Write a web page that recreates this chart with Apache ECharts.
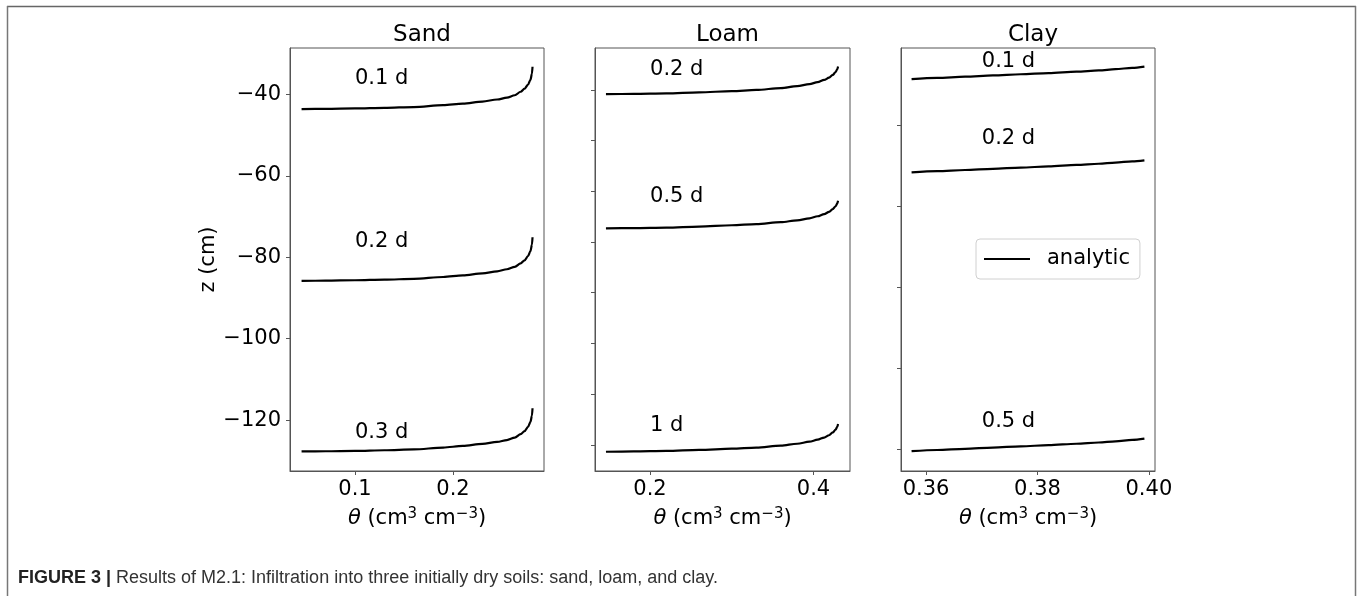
<!DOCTYPE html>
<html><head><meta charset="utf-8">
<script src="https://cdn.jsdelivr.net/npm/echarts@6/dist/echarts.min.js"></script>
<style>html,body{margin:0;padding:0;background:#fff}#c{width:1357px;height:596px}</style>
</head><body><div id="c"></div>
<script>
// ---------- data ----------
const panelTitles = ['Sand', 'Loam', 'Clay'];

// Sand
const sandTheta = [0.0455, 0.07, 0.1, 0.13, 0.16, 0.19, 0.21, 0.23, 0.245, 0.255, 0.263, 0.269, 0.273, 0.2765, 0.279, 0.2805, 0.2811];
const sandZ01 = [-43.6, -43.55, -43.45, -43.3, -43.1, -42.65, -42.25, -41.75, -41.25, -40.8, -40.2, -39.35, -38.6, -37.6, -36.4, -34.9, -33.2];
const sandZ02 = [-85.8, -85.75, -85.65, -85.5, -85.3, -84.85, -84.45, -83.95, -83.45, -82.95, -82.35, -81.5, -80.75, -79.7, -78.5, -76.9, -75.1];
const sandZ03 = [-127.7, -127.65, -127.55, -127.4, -127.2, -126.75, -126.35, -125.85, -125.35, -124.9, -124.3, -123.45, -122.7, -121.65, -120.45, -118.9, -117.1];
const sandLabels = ['0.1 d', '0.2 d', '0.3 d'];
const sandLabelTheta = [0.1, 0.1, 0.1];
const sandLabelZ = [-36.2, -76.1, -123.1];
const sandXTicks = [0.1, 0.2];
const sandYTicks = [-120, -100, -80, -60, -40];

// Loam
const loamTheta = [0.1461, 0.18, 0.22, 0.26, 0.30, 0.33, 0.36, 0.38, 0.395, 0.405, 0.413, 0.419, 0.4235, 0.427, 0.4290, 0.4300];
const loamZ02 = [-41.7, -41.6, -41.4, -41.0, -40.5, -40.05, -39.3, -38.55, -37.75, -36.95, -36.1, -35.2, -34.1, -33.0, -31.9, -30.8];
const loamZ05 = [-94.6, -94.5, -94.3, -93.9, -93.4, -92.95, -92.2, -91.45, -90.65, -89.85, -89.0, -88.1, -87.0, -85.9, -84.8, -83.7];
const loamZ1 = [-182.7, -182.6, -182.4, -182.0, -181.5, -181.05, -180.3, -179.55, -178.75, -177.95, -177.1, -176.2, -175.1, -174.0, -172.9, -171.8];
const loamLabels = ['0.2 d', '0.5 d', '1 d'];
const loamLabelTheta = [0.2, 0.2, 0.2];
const loamLabelZ = [-32.1, -82.1, -172.3];
const loamXTicks = [0.2, 0.4];
const loamYTicks = [-180, -160, -140, -120, -100, -80, -60, -40];

// Clay
const clayTheta = [0.3574, 0.362, 0.367, 0.372, 0.377, 0.382, 0.387, 0.391, 0.394, 0.397, 0.3992];
const clayZ01 = [-28.5, -28.2, -27.9, -27.6, -27.3, -27.0, -26.65, -26.35, -26.05, -25.7, -25.4];
const clayZ02 = [-51.6, -51.3, -51.0, -50.7, -50.4, -50.1, -49.75, -49.45, -49.15, -48.85, -48.6];
const clayZ05 = [-120.6, -120.3, -120.0, -119.7, -119.4, -119.1, -118.75, -118.45, -118.15, -117.8, -117.5];
const clayLabels = ['0.1 d', '0.2 d', '0.5 d'];
const clayLabelTheta = [0.37, 0.37, 0.37];
const clayLabelZ = [-24.2, -43.1, -113.2];
const clayXTicks = [0.36, 0.38, 0.40];
const clayYTicks = [-120, -100, -80, -60, -40];

const legendName = 'analytic';
const captionBold = 'FIGURE 3 |';
const captionText = ' Results of M2.1: Infiltration into three initially dry soils: sand, loam, and clay.';

// ---------- options ----------
const FONT = 'DejaVu Sans';
const AX = '#555';
const minus = v => (v < 0 ? '\u2212' : '') + Math.abs(v);

const grids = [
  {left: 290, top: 48, width: 254, height: 423},
  {left: 595, top: 48, width: 255, height: 423},
  {left: 901, top: 48, width: 254, height: 423}
];
const xRanges = [[0.0337, 0.2928], [0.1327, 0.4446], [0.3555, 0.4011]];
const yRanges = [[-132.5, -28.6], [-190.3, -23.5], [-125.5, -20.8]];
const xTicks = [sandXTicks, loamXTicks, clayXTicks];
const yTicks = [sandYTicks, loamYTicks, clayYTicks];
const xFmt = [v => v.toFixed(1), v => v.toFixed(1), v => v.toFixed(2)];

const nameRich = {
  t: {fontStyle: 'italic', fontSize: 21, fontFamily: FONT, color: '#000'},
  s: {fontSize: 15, fontFamily: FONT, color: '#000', verticalAlign: 'top', padding: [0, 0, 8, 0]}
};

const xAxis = grids.map((g, i) => ({
  type: 'value', gridIndex: i, min: xRanges[i][0], max: xRanges[i][1],
  axisLine: {show: true, onZero: false, lineStyle: {color: AX, width: 1}},
  axisTick: {show: true, length: 4, customValues: xTicks[i], lineStyle: {color: AX}},
  axisLabel: {show: true, customValues: xTicks[i], formatter: xFmt[i], fontSize: 21,
    fontFamily: FONT, color: '#000', margin: 8},
  splitLine: {show: false},
  name: '{t|θ} (cm{s|3} cm{s|\u22123})',
  nameLocation: 'middle', nameGap: 36,
  nameTextStyle: {fontSize: 21, fontFamily: FONT, color: '#000', rich: nameRich}
}));

const yAxis = grids.map((g, i) => ({
  type: 'value', gridIndex: i, min: yRanges[i][0], max: yRanges[i][1],
  axisLine: {show: true, onZero: false, lineStyle: {color: AX, width: 1}},
  axisTick: {show: true, length: 4, customValues: yTicks[i], lineStyle: {color: AX}},
  axisLabel: {show: i === 0, customValues: yTicks[i], formatter: minus, fontSize: 21,
    fontFamily: FONT, color: '#000', margin: 9},
  splitLine: {show: false},
  name: i === 0 ? 'z (cm)' : '',
  nameLocation: 'middle', nameGap: 63,
  nameTextStyle: {fontSize: 21, fontFamily: FONT, color: '#000'}
}));

function curve(i, theta, z) {
  return {
    type: 'line', name: legendName, xAxisIndex: i, yAxisIndex: i,
    data: theta.map((t, k) => [t, z[k]]),
    symbol: 'none', smooth: 0.3, smoothMonotone: 'x', color: '#000',
    lineStyle: {color: '#000', width: 2.2}, silent: true
  };
}
function labels(i, names, th, zz) {
  return {
    type: 'scatter', xAxisIndex: i, yAxisIndex: i, symbolSize: 0, silent: true,
    itemStyle: {opacity: 1},
    data: names.map((n, k) => ({name: n, value: [th[k], zz[k]]})),
    label: {show: true, position: 'right', distance: 0, formatter: '{b}',
      fontSize: 21, fontFamily: FONT, color: '#000', opacity: 1}
  };
}

const series = [
  curve(0, sandTheta, sandZ01), curve(0, sandTheta, sandZ02), curve(0, sandTheta, sandZ03),
  curve(1, loamTheta, loamZ02), curve(1, loamTheta, loamZ05), curve(1, loamTheta, loamZ1),
  curve(2, clayTheta, clayZ01), curve(2, clayTheta, clayZ02), curve(2, clayTheta, clayZ05),
  labels(0, sandLabels, sandLabelTheta, sandLabelZ),
  labels(1, loamLabels, loamLabelTheta, loamLabelZ),
  labels(2, clayLabels, clayLabelTheta, clayLabelZ)
];

const titles = grids.map((g, i) => ({
  text: panelTitles[i], left: g.left + g.width / 2, top: 19, textAlign: 'center',
  textStyle: {fontSize: 23, fontWeight: 'normal', fontFamily: FONT, color: '#000'}
}));

const option = {
  animation: false,
  backgroundColor: '#fff',
  title: titles,
  grid: grids.map(g => Object.assign({show: true, borderColor: AX, borderWidth: 1, backgroundColor: 'transparent'}, g)),
  xAxis, yAxis, series,
  legend: {
    data: [{name: legendName, icon: 'rect'}], left: 976, top: 239, orient: 'vertical',
    itemWidth: 46, itemHeight: 2.2, padding: [8, 10, 8, 8],
    borderColor: '#d0d0d0', borderWidth: 1, borderRadius: 4,
    textStyle: {fontSize: 21, fontFamily: FONT, color: '#000', padding: [0, 0, 0, 12], lineHeight: 24},
    selectedMode: false
  },
  graphic: [
    {type: 'line', shape: {x1: 7, y1: 6.5, x2: 1356, y2: 6.5}, style: {stroke: '#666', lineWidth: 1.5}},
    {type: 'line', shape: {x1: 7.5, y1: 6, x2: 7.5, y2: 596}, style: {stroke: '#777', lineWidth: 1.5}},
    {type: 'line', shape: {x1: 1355.5, y1: 6, x2: 1355.5, y2: 596}, style: {stroke: '#777', lineWidth: 1.5}},
    {type: 'text', left: 18, top: 569,
      style: {text: '{b|' + captionBold + '}' + captionText, fontSize: 18,
        fontFamily: 'Liberation Sans', fill: '#333',
        rich: {b: {fontWeight: 'bold', fontSize: 18, fontFamily: 'Liberation Sans', fill: '#222', color: '#222'}}}}
  ]
};

const chart = echarts.init(document.getElementById('c'), null, {renderer: 'canvas'});
chart.setOption(option);
</script>
</body></html>
